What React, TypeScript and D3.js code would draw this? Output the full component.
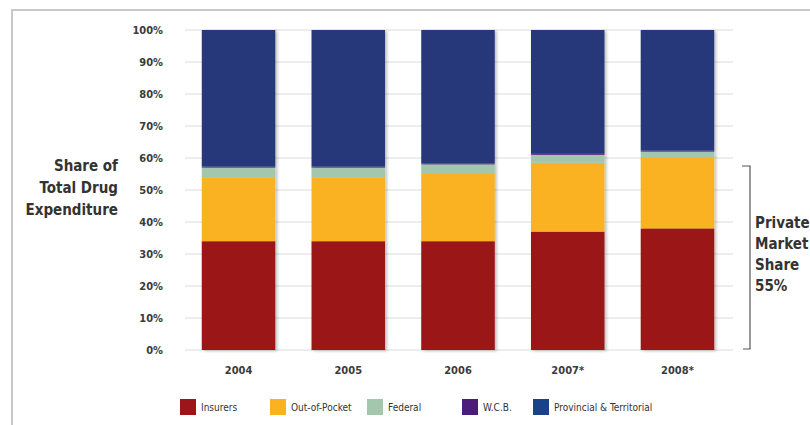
import React from 'react';
import * as d3 from 'd3';

const YEARS = ['2004', '2005', '2006', '2007*', '2008*'];
const SERIES = ['Insurers', 'Out-of-Pocket', 'Federal', 'W.C.B.', 'Provincial & Territorial'];
const COLORS = ['#9b1519', '#fbb220', '#a3c7ad', '#4c1c7d', '#25377a'];
const LEGEND_COLORS = ['#9b1519', '#fbb220', '#a3c7ad', '#4c1c7d', '#1b418a'];

// share of total drug expenditure, % per year
const INSURERS = [34, 34, 34, 37, 38];
const OUT_OF_POCKET = [20, 20, 21, 21.5, 22];
const FEDERAL = [3, 3, 3, 2.5, 2];
const WCB = [0.3, 0.3, 0.3, 0.3, 0.3];
const PROVINCIAL = [42.7, 42.7, 41.7, 38.7, 37.7];

const Y_TICKS = [0, 10, 20, 30, 40, 50, 60, 70, 80, 90, 100];
const Y_TITLE = ['Share of', 'Total Drug', 'Expenditure'];
const SIDE_NOTE = ['Private', 'Market', 'Share', '55%'];

const FONT = '"Liberation Sans Narrow", "DejaVu Sans Condensed", Arial, sans-serif';
const MARGIN = { top: 30, left: 185, right: 733, bottom: 350 };

const App = () => {
  const rows = YEARS.map((y, i) => ({
    year: y,
    [SERIES[0]]: INSURERS[i],
    [SERIES[1]]: OUT_OF_POCKET[i],
    [SERIES[2]]: FEDERAL[i],
    [SERIES[3]]: WCB[i],
    [SERIES[4]]: PROVINCIAL[i],
  }));
  const stacked = d3.stack<any>().keys(SERIES)(rows);

  const x = d3.scaleBand().domain(YEARS).range([MARGIN.left + 8, MARGIN.right - 10]).paddingInner(0.33).paddingOuter(0.08);
  const y = d3.scaleLinear().domain([0, 100]).range([MARGIN.bottom, MARGIN.top]);

  const bracketTop = y(57.5);
  const legendX = [180, 270, 367, 462, 533];

  return (
    <svg width={810} height={425} style={{ position: 'absolute', left: 0, top: 0, background: '#fff' }}>
      <defs>
        <filter id="shadow" x="-10%" y="-5%" width="130%" height="115%">
          <feDropShadow dx="2" dy="1" stdDeviation="1.5" floodColor="#000" floodOpacity="0.25" />
        </filter>
      </defs>
      <rect x={12} y={10} width={820} height={440} fill="none" stroke="#c8c8c8" strokeWidth={2} />

      {/* gridlines */}
      {Y_TICKS.map(t => (
        <line key={t} x1={MARGIN.left} x2={MARGIN.right} y1={y(t)} y2={y(t)} stroke="#dcdcdc" strokeWidth={1} />
      ))}
      {Y_TICKS.map(t => (
        <text key={'l' + t} x={163} y={y(t)} dy="0.35em" textAnchor="end" fontFamily={FONT} fontSize={11} fontWeight="bold" fill="#3a3a3a">
          {t}%
        </text>
      ))}

      {/* bars */}
      {YEARS.map((yr, i) => (
        <g key={yr} filter="url(#shadow)">
          {stacked.map((s, k) => (
            <rect key={k} x={x(yr)} width={x.bandwidth()} y={y(s[i][1])} height={y(s[i][0]) - y(s[i][1])} fill={COLORS[k]} />
          ))}
        </g>
      ))}

      {YEARS.map(yr => (
        <text key={'x' + yr} x={x(yr)! + x.bandwidth() / 2} y={374} textAnchor="middle" fontFamily={FONT} fontSize={11} fontWeight="bold" fill="#3a3a3a">
          {yr}
        </text>
      ))}

      {/* y title */}
      {Y_TITLE.map((t, i) => (
        <text key={t} x={118} y={171 + i * 22} textAnchor="end" fontFamily={FONT} fontSize={15} fontWeight="bold" fill="#333">
          {t}
        </text>
      ))}

      {/* private market bracket */}
      <path d={`M742,${bracketTop}H750V${y(0) - 1}H743`} fill="none" stroke="#555" strokeWidth={1.2} />
      {SIDE_NOTE.map((t, i) => (
        <text key={t} x={755} y={228 + i * 21} fontFamily={FONT} fontSize={15} fontWeight="bold" fill="#333">
          {t}
        </text>
      ))}

      {/* legend */}
      {SERIES.map((s, i) => (
        <g key={s}>
          <rect x={legendX[i]} y={399} width={16} height={16} fill={LEGEND_COLORS[i]} />
          <text x={legendX[i] + 21} y={407} dy="0.35em" fontFamily={FONT} fontSize={10} fill="#333">
            {s}
          </text>
        </g>
      ))}
    </svg>
  );
};

export default App;
